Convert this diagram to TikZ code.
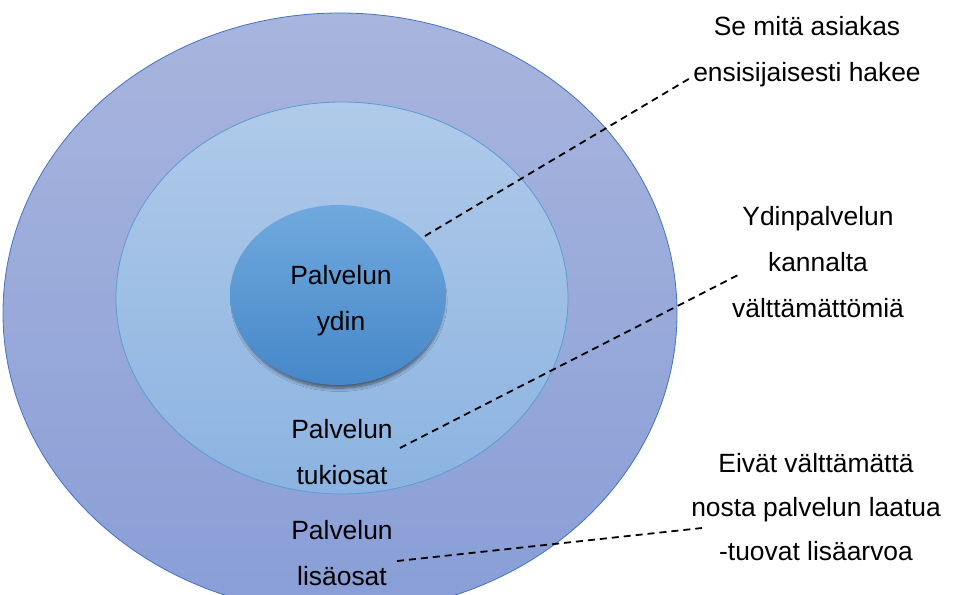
\documentclass[tikz,border=0pt]{standalone}
\usepackage{fontspec}
\setmainfont{Liberation Sans}
\usetikzlibrary{shapes.geometric,shadows.blur}
\definecolor{outerTop}{HTML}{A8B5DD}
\definecolor{outerBot}{HTML}{899ED7}
\definecolor{outerLine}{HTML}{4472C4}
\definecolor{midTop}{HTML}{B0CAE9}
\definecolor{midBot}{HTML}{8BB3E1}
\definecolor{midLine}{HTML}{5B9BD5}
\definecolor{coreTop}{HTML}{70A9DD}
\definecolor{coreBot}{HTML}{4687C9}
\tikzset{
  ring/.style={ellipse, inner sep=0pt, line width=0.8pt},
  lbl/.style={font=\fontsize{26.4}{46}\selectfont, align=center, inner sep=0pt, text=black},
  leader/.style={line width=1.8pt, dash pattern=on 7pt off 5pt, black}
}
\begin{document}
\begin{tikzpicture}[x=1pt,y=-1pt]
\path[use as bounding box, fill=white] (0,0) rectangle (957,594);
\begin{scope}
\clip (0,0) rectangle (957,594);
\node[ring, draw=outerLine, top color=outerTop, bottom color=outerBot,
      minimum width=674pt, minimum height=600pt] (outer) at (340,313) {};
\node[ring, draw=midLine, top color=midTop, bottom color=midBot,
      minimum width=452pt, minimum height=392pt] (mid) at (342,298) {};
\node[ring, top color=coreTop, bottom color=coreBot,
      minimum width=216pt, minimum height=180pt,
      blur shadow={shadow xshift=1pt, shadow yshift=-6pt, shadow scale=0.97, shadow blur steps=8, shadow opacity=55, shadow blur radius=3.5pt}] (core) at (338,295) {};
\end{scope}
\node[lbl] (coretxt) at (341,301) {Palvelun\\ydin};
\node[lbl] (midtxt) at (342,452) {Palvelun\\tukiosat};
\node[lbl] (outtxt) at (342,553) {Palvelun\\lisäosat};
\node[lbl] (r1) at (807,52) {Se mitä asiakas\\ensisijaisesti hakee};
\node[lbl] (r2) at (818,262) {Ydinpalvelun\\kannalta\\välttämättömiä};
\node[lbl, font=\fontsize{26.4}{44}\selectfont] (r3) at (816,507) {Eivät välttämättä\\nosta palvelun laatua\\-tuovat lisäarvoa};
\coordinate (a1) at (425,236);
\coordinate (b1) at (692,77);
\coordinate (a2) at (400,448);
\coordinate (b2) at (738,275);
\coordinate (a3) at (397,561);
\coordinate (b3) at (702,528);
\draw[leader] (a1) -- (b1);
\draw[leader] (a2) -- (b2);
\draw[leader] (a3) -- (b3);
\end{tikzpicture}
\end{document}
